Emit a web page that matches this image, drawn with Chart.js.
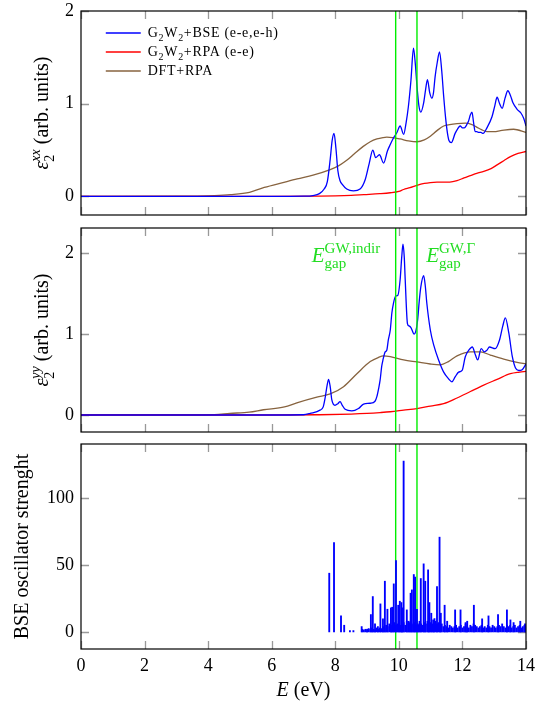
<!DOCTYPE html>
<html>
<head>
<meta charset="utf-8">
<script src="https://cdn.jsdelivr.net/npm/chart.js@4/dist/chart.umd.min.js"></script>
<style>
html, body { margin: 0; padding: 0; background: #fff; }
body { width: 558px; height: 704px; position: relative; overflow: hidden; }
canvas { position: absolute; left: 0; }
</style>
</head>
<body>
<canvas id="c1" width="558" height="222" style="top:0px"></canvas>
<canvas id="c2" width="558" height="216" style="top:222px"></canvas>
<canvas id="c3" width="558" height="266" style="top:438px"></canvas>
<script>
// eps2 xx
var xxBseE = [0, 6, 7.0, 7.3, 7.5, 7.65, 7.75, 7.84, 7.9, 7.96, 8.02, 8.08, 8.15, 8.22, 8.36, 8.57, 8.78, 8.94, 9.07, 9.18, 9.27, 9.39, 9.52, 9.64, 9.73, 9.83, 9.94, 10.04, 10.15, 10.23, 10.30, 10.38, 10.46, 10.52, 10.57, 10.63, 10.69, 10.78, 10.84, 10.90, 10.97, 11.04, 11.09, 11.14, 11.21, 11.28, 11.35, 11.41, 11.47, 11.53, 11.58, 11.65, 11.77, 11.85, 11.93, 12.0, 12.06, 12.13, 12.19, 12.25, 12.30, 12.35, 12.40, 12.45, 12.51, 12.58, 12.65, 12.77, 12.93, 13.02, 13.09, 13.17, 13.25, 13.34, 13.43, 13.51, 13.59, 13.72, 13.84, 13.93, 14.0];
var xxBseV = [0, 0, 0.003, 0.01, 0.03, 0.08, 0.16, 0.40, 0.60, 0.68, 0.52, 0.28, 0.17, 0.13, 0.08, 0.06, 0.08, 0.18, 0.36, 0.50, 0.42, 0.45, 0.36, 0.49, 0.56, 0.63, 0.69, 0.76, 0.67, 0.80, 0.97, 1.25, 1.60, 1.42, 1.19, 0.98, 0.91, 1.01, 1.15, 1.26, 1.12, 1.06, 1.12, 1.29, 1.45, 1.56, 1.35, 1.08, 0.85, 0.68, 0.60, 0.58, 0.68, 0.73, 0.76, 0.74, 0.74, 0.77, 0.81, 0.88, 0.91, 0.80, 0.70, 0.70, 0.69, 0.69, 0.68, 0.74, 0.86, 0.98, 1.07, 1.00, 0.95, 1.06, 1.14, 1.09, 1.01, 0.94, 0.90, 0.84, 0.76];
var xxRpaE = [0, 6, 7.5, 8.0, 8.5, 8.9, 9.4, 9.73, 10.0, 10.15, 10.35, 10.57, 10.8, 10.99, 11.2, 11.41, 11.6, 11.83, 12.05, 12.25, 12.45, 12.67, 12.9, 13.09, 13.3, 13.51, 13.75, 14.0];
var xxRpaV = [0, 0, 0.003, 0.006, 0.012, 0.02, 0.03, 0.04, 0.055, 0.075, 0.095, 0.12, 0.14, 0.15, 0.155, 0.155, 0.155, 0.17, 0.2, 0.225, 0.25, 0.27, 0.3, 0.34, 0.385, 0.43, 0.465, 0.485];
var xxDftE = [0, 3, 4.2, 4.7, 5.3, 5.7, 6.26, 6.8, 7.3, 7.84, 8.1, 8.36, 8.6, 8.88, 9.1, 9.31, 9.5, 9.62, 9.8, 10.04, 10.3, 10.57, 10.8, 10.99, 11.2, 11.41, 11.6, 11.83, 12.09, 12.3, 12.46, 12.6, 12.77, 13.0, 13.2, 13.61, 14.0];
var xxDftV = [0, 0.002, 0.01, 0.02, 0.045, 0.09, 0.14, 0.19, 0.23, 0.29, 0.33, 0.39, 0.46, 0.54, 0.59, 0.62, 0.635, 0.64, 0.635, 0.62, 0.60, 0.59, 0.61, 0.65, 0.71, 0.76, 0.775, 0.785, 0.79, 0.775, 0.745, 0.72, 0.70, 0.70, 0.71, 0.725, 0.69];

// eps2 yy
var yyBseE = [0, 6, 7.0, 7.21, 7.52, 7.62, 7.68, 7.74, 7.79, 7.84, 7.89, 7.99, 8.08, 8.15, 8.22, 8.31, 8.52, 8.73, 8.89, 9.10, 9.25, 9.31, 9.36, 9.41, 9.46, 9.50, 9.57, 9.62, 9.67, 9.73, 9.78, 9.83, 9.90, 9.97, 10.04, 10.09, 10.13, 10.17, 10.20, 10.27, 10.32, 10.38, 10.48, 10.53, 10.59, 10.64, 10.69, 10.78, 10.83, 10.88, 10.99, 11.10, 11.25, 11.41, 11.56, 11.67, 11.77, 11.88, 11.99, 12.09, 12.20, 12.31, 12.41, 12.48, 12.59, 12.69, 12.77, 12.85, 13.03, 13.17, 13.27, 13.35, 13.46, 13.57, 13.67, 13.77, 13.88, 14.0];
var yyBseV = [0, 0, 0.003, 0.02, 0.06, 0.1, 0.21, 0.36, 0.44, 0.35, 0.19, 0.12, 0.14, 0.165, 0.12, 0.07, 0.05, 0.08, 0.135, 0.145, 0.17, 0.23, 0.32, 0.43, 0.6, 0.68, 0.78, 0.80, 0.93, 1.05, 1.26, 1.38, 1.47, 1.48, 1.67, 1.95, 2.11, 1.95, 1.67, 1.13, 1.10, 1.08, 1.0, 1.03, 1.17, 1.40, 1.58, 1.72, 1.60, 1.38, 1.05, 0.86, 0.68, 0.53, 0.45, 0.41, 0.47, 0.53, 0.55, 0.72, 0.80, 0.84, 0.74, 0.68, 0.82, 0.78, 0.80, 0.84, 0.82, 0.93, 1.10, 1.20, 1.01, 0.72, 0.58, 0.55, 0.56, 0.63];
var yyRpaE = [0, 6, 7.5, 8.5, 9.0, 9.41, 9.73, 10.15, 10.57, 10.99, 11.41, 11.83, 12.25, 12.67, 13.09, 13.51, 13.8, 14];
var yyRpaV = [0, 0, 0.003, 0.012, 0.02, 0.03, 0.04, 0.06, 0.08, 0.11, 0.14, 0.21, 0.29, 0.37, 0.44, 0.51, 0.53, 0.54];
var yyDftE = [0, 3, 4.2, 4.68, 5.29, 5.74, 6.4, 6.79, 7.42, 7.84, 8.26, 8.68, 9.10, 9.35, 9.52, 9.73, 10.15, 10.57, 10.99, 11.30, 11.56, 11.83, 12.25, 12.57, 12.88, 13.30, 13.72, 14];
var yyDftV = [0, 0.002, 0.005, 0.02, 0.035, 0.065, 0.1, 0.15, 0.22, 0.26, 0.35, 0.51, 0.66, 0.71, 0.73, 0.72, 0.68, 0.655, 0.63, 0.62, 0.66, 0.73, 0.78, 0.78, 0.74, 0.69, 0.65, 0.63];

// BSE oscillator strengths: the tall lines, then the low dense ones
var oscE = [7.81, 7.96, 8.18, 8.28, 8.46, 8.57, 8.83, 9.0, 9.12, 9.18, 9.25, 9.34, 9.42, 9.50, 9.56, 9.64, 9.75, 9.79, 9.84, 9.91, 9.98, 10.03, 10.08, 10.10, 10.15, 10.25, 10.31, 10.37, 10.41, 10.47, 10.51, 10.57, 10.63, 10.69, 10.78, 10.83, 10.92, 10.96, 11.02, 11.08, 11.12, 11.20, 11.28, 11.32, 11.44, 11.52, 11.77, 11.94, 12.1, 12.15, 12.36, 12.62, 12.82, 13.12, 13.40, 13.51, 13.61, 13.82, 13.97];
var oscF = [44, 67, 12, 5, 1, 1, 4, 2, 13, 26.5, 6, 4, 21, 9.8, 38, 17, 18, 18.5, 36, 53.5, 20, 23, 22, 18, 128, 16.5, 8, 29, 31.5, 43, 41, 17, 5, 40, 51, 38, 46.5, 22, 14, 9, 10, 34, 71, 14, 20, 8, 16.5, 16.5, 7, 8, 20, 9.8, 12, 13, 16.5, 9, 7, 8, 6];
var grassE = [8.85, 8.90, 8.95, 9.00, 9.05, 9.10, 9.15, 9.20, 9.25, 9.30, 9.35, 9.40, 9.45,
	9.50, 9.55, 9.60, 9.65, 9.70, 9.75, 9.80, 9.85, 9.90, 9.95, 10.00, 10.05, 10.10, 10.15, 10.20, 10.25, 10.30, 10.35, 10.40, 10.45,
	10.50, 10.55, 10.60, 10.65, 10.70, 10.75, 10.80, 10.85, 10.90, 10.95, 11.00, 11.05, 11.10, 11.15, 11.20, 11.25, 11.30, 11.35, 11.40, 11.45,
	11.50, 11.55, 11.60, 11.65, 11.70, 11.75, 11.80, 11.85, 11.90, 11.95, 12.00, 12.05, 12.10, 12.15, 12.20, 12.25, 12.30, 12.35, 12.40, 12.45,
	12.50, 12.55, 12.60, 12.65, 12.70, 12.75, 12.80, 12.85, 12.90, 12.95, 13.00, 13.05, 13.10, 13.15, 13.20, 13.25, 13.30, 13.35, 13.40, 13.45,
	13.50, 13.55, 13.60, 13.65, 13.70, 13.75, 13.80, 13.85, 13.90, 13.95, 14.00];
var grassF = [2, 1.5, 2, 1, 2.5, 2, 3, 2, 1.5, 3, 2, 3, 2.5,
	4, 3, 5, 4, 6, 5, 4, 7, 5, 6, 8, 5, 6, 7, 5, 8, 6, 7, 5, 6,
	7, 5, 6, 8, 6, 5, 7, 6, 8, 5, 7, 6, 5, 8, 6, 7, 5, 6, 4, 5,
	4, 3, 5, 4, 3, 4, 5, 3, 4, 5, 3, 4, 6, 4, 3, 5, 4, 6, 5, 4,
	3, 4, 5, 3, 4, 3, 5, 4, 3, 5, 4, 3, 4, 5, 4, 6, 4, 3, 5, 4,
	5, 3, 4, 5, 3, 4, 5, 3, 4, 5, 4];

var gapE = [9.9, 10.57];
var gapNotes = ["*E*_{gap}^{GW,indir}", "*E*_{gap}^{GW,Γ}"];
var gapNoteE = [7.26, 10.86];
var gapNoteV = [1.89, 1.89];

var seriesLabels = ["G_2W_2+BSE (e-e,e-h)", "G_2W_2+RPA (e-e)", "DFT+RPA"];
var yTitles = ["*ε*_2^{*xx*} (arb. units)", "*ε*_2^{*yy*} (arb. units)", "BSE oscillator strenght"];
var xTitle = "*E* (eV)";

var SERIF = "'Liberation Serif', 'DejaVu Serif', serif";
var BLUE = "#0000ff", RED = "#ff0000", BROWN = "#87633f", GREEN = "#00ee00";

function pts(E, V) {
	var out = [];
	for (var i = 0; i < E.length; i++) out.push({ x: E[i], y: V[i] });
	return out;
}

// tiny markup: *italic*, _x / _{..} subscript, ^x / ^{..} superscript
function parseRich(s) {
	var segs = [], buf = "", i = 0;
	function flush() { if (buf) { segs.push({ t: buf, k: "n" }); buf = ""; } }
	while (i < s.length) {
		var c = s[i];
		if (c === "_" || c === "^") {
			flush();
			var t;
			if (s[i + 1] === "{") { var j = s.indexOf("}", i); t = s.slice(i + 2, j); i = j + 1; }
			else { t = s[i + 1]; i += 2; }
			segs.push({ t: t, k: c === "_" ? "sub" : "sup" });
		} else if (c === "*") {
			flush();
			var k = s.indexOf("*", i + 1);
			segs.push({ t: s.slice(i + 1, k), k: "it" });
			i = k + 1;
		} else { buf += c; i++; }
	}
	flush();
	return segs;
}

function richText(ctx, str, x, y, size, draw) {
	var segs = parseRich(str), small = Math.round(size * 0.7), cx = x;
	for (var i = 0; i < segs.length; i++) {
		var s = segs[i];
		if (s.k === "n" || s.k === "it") {
			ctx.font = (s.k === "it" ? "italic " : "") + size + "px " + SERIF;
			if (draw) ctx.fillText(s.t, cx, y);
			cx += ctx.measureText(s.t).width;
		} else {
			var pair = [s], n = segs[i + 1];
			if (n && (n.k === "sub" || n.k === "sup") && n.k !== s.k) { pair.push(n); i++; }
			var w = 0;
			pair.forEach(function(p) {
				var t = p.t, it = false;
				if (t[0] === "*") { t = t.slice(1, -1); it = true; }
				ctx.font = (it ? "italic " : "") + small + "px " + SERIF;
				if (draw) ctx.fillText(t, cx, y + (p.k === "sub" ? size * 0.28 : -size * 0.42));
				w = Math.max(w, ctx.measureText(t).width);
			});
			cx += w;
		}
	}
	return cx - x;
}

function drawTicks(chart) {
	var ctx = chart.ctx, ca = chart.chartArea, sx = chart.scales.x, sy = chart.scales.y, L = 8;
	ctx.save();
	ctx.strokeStyle = "#999";
	ctx.lineWidth = 1.3;
	ctx.beginPath();
	sx.ticks.forEach(function(t) {
		var p = Math.round(sx.getPixelForValue(t.value)) + 0.5;
		ctx.moveTo(p, ca.bottom); ctx.lineTo(p, ca.bottom - L);
		ctx.moveTo(p, ca.top); ctx.lineTo(p, ca.top + L);
	});
	sy.ticks.forEach(function(t) {
		var p = Math.round(sy.getPixelForValue(t.value)) + 0.5;
		ctx.moveTo(ca.left, p); ctx.lineTo(ca.left + L, p);
		ctx.moveTo(ca.right, p); ctx.lineTo(ca.right - L, p);
	});
	ctx.stroke();
	ctx.restore();
}

function drawGaps(chart) {
	var ctx = chart.ctx, ca = chart.chartArea, sx = chart.scales.x;
	ctx.save();
	ctx.strokeStyle = GREEN;
	ctx.lineWidth = 1.4;
	ctx.beginPath();
	gapE.forEach(function(e) {
		var p = sx.getPixelForValue(e);
		ctx.moveTo(p, ca.top); ctx.lineTo(p, ca.bottom);
	});
	ctx.stroke();
	ctx.restore();
}

var panelPlugin = {
	id: "panel",
	beforeDatasetsDraw: function(chart, args, o) {
		drawTicks(chart);
		if (o.gapBehind) drawGaps(chart);
	},
	afterDatasetsDraw: function(chart, args, o) {
		if (!o.gapBehind) drawGaps(chart);
	},
	afterDraw: function(chart, args, o) {
		var ctx = chart.ctx, ca = chart.chartArea, sx = chart.scales.x, sy = chart.scales.y;
		ctx.save();
		ctx.strokeStyle = "#000";
		ctx.lineWidth = 1.2;
		ctx.strokeRect(ca.left, ca.top, ca.right - ca.left, ca.bottom - ca.top);

		// y title, rotated
		ctx.fillStyle = "#000";
		ctx.textBaseline = "alphabetic";
		var w = richText(ctx, o.yTitle, 0, 0, 20, false);
		ctx.translate(o.titleX, (ca.top + ca.bottom) / 2);
		ctx.rotate(-Math.PI / 2);
		richText(ctx, o.yTitle, -w / 2, 0, 20, true);
		ctx.restore();

		if (o.xTitle) {
			ctx.save();
			ctx.fillStyle = "#000";
			var wx = richText(ctx, o.xTitle, 0, 0, 20, false);
			richText(ctx, o.xTitle, (ca.left + ca.right) / 2 - wx / 2, ca.bottom + 47, 20, true);
			ctx.restore();
		}

		if (o.legend) {
			ctx.save();
			ctx.letterSpacing = "0.7px";
			var cols = [BLUE, RED, BROWN];
			for (var i = 0; i < seriesLabels.length; i++) {
				var ly = ca.top + 22 + i * 19;
				ctx.strokeStyle = cols[i];
				ctx.lineWidth = 1.3;
				ctx.beginPath();
				ctx.moveTo(sx.getPixelForValue(0.78), ly);
				ctx.lineTo(sx.getPixelForValue(1.88), ly);
				ctx.stroke();
				ctx.fillStyle = "#000";
				richText(ctx, seriesLabels[i], sx.getPixelForValue(2.1), ly + 4, 14, true);
			}
			ctx.restore();
		}

		if (o.notes) {
			ctx.save();
			ctx.fillStyle = "#22dd22";
			for (var j = 0; j < gapNotes.length; j++) {
				richText(ctx, gapNotes[j], sx.getPixelForValue(gapNoteE[j]), sy.getPixelForValue(gapNoteV[j]), 21, true);
			}
			ctx.restore();
		}
	}
};

function lineSet(data, color) {
	return { data: data, borderColor: color, borderWidth: 1.3, pointRadius: 0, fill: false, cubicInterpolationMode: "monotone" };
}

function makePanel(id, type, datasets, yMin, yMax, yStep, o) {
	return new Chart(document.getElementById(id), {
		type: type,
		data: { datasets: datasets },
		options: {
			responsive: false,
			animation: false,
			devicePixelRatio: 1,
			layout: { padding: { top: o.top, right: 32, bottom: 0, left: 0 } },
			plugins: { legend: { display: false }, tooltip: { enabled: false }, panel: o },
			scales: {
				x: {
					type: "linear", min: 0, max: 14, offset: false,
					ticks: { display: !!o.xTitle, stepSize: 2, padding: 6, maxRotation: 0, includeBounds: false, color: "#000", font: { family: SERIF, size: 18 } },
					grid: { display: false, drawTicks: false },
					border: { display: false },
					afterFit: function(s) { s.height = o.xh; s.paddingLeft = 0; s.paddingRight = 0; }
				},
				y: {
					type: "linear", min: yMin, max: yMax,
					ticks: { stepSize: yStep, padding: 7, includeBounds: false, color: "#000", font: { family: SERIF, size: 18 } },
					grid: { display: false, drawTicks: false },
					border: { display: false },
					// the tick labels would otherwise push the plot box in
					afterFit: function(s) { s.width = 81; s.paddingTop = 0; s.paddingBottom = 0; }
				}
			}
		},
		plugins: [panelPlugin]
	});
}

makePanel("c1", "line", [
	lineSet(pts(xxBseE, xxBseV), BLUE),
	lineSet(pts(xxRpaE, xxRpaV), RED),
	lineSet(pts(xxDftE, xxDftV), BROWN)
], -0.2, 2, 1, { top: 11, xh: 7, yTitle: yTitles[0], titleX: 48, legend: true });

makePanel("c2", "line", [
	lineSet(pts(yyBseE, yyBseV), BLUE),
	lineSet(pts(yyRpaE, yyRpaV), RED),
	lineSet(pts(yyDftE, yyDftV), BROWN)
], -0.21, 2.31, 1, { top: 6, xh: 6, yTitle: yTitles[1], titleX: 48, notes: true });

makePanel("c3", "bar", [
	{ data: pts(oscE, oscF), backgroundColor: BLUE, barThickness: 1.2, grouped: false },
	{ data: pts(grassE, grassF), backgroundColor: BLUE, barThickness: 1.2, grouped: false }
], -12.8, 140.8, 50, { top: 6, xh: 55, yTitle: yTitles[2], titleX: 28, xTitle: xTitle, gapBehind: true });
</script>
</body>
</html>
